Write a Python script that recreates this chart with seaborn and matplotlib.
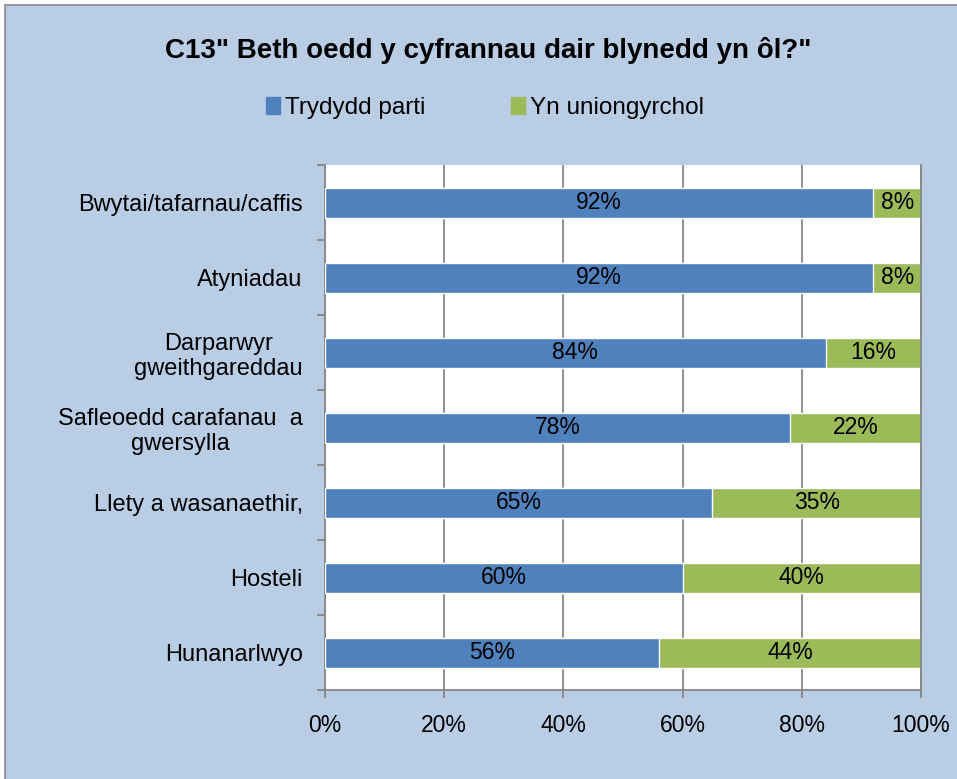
import matplotlib
matplotlib.use("Agg")
import matplotlib.pyplot as plt
import matplotlib.patches as mpatches
import numpy as np
import pandas as pd
import seaborn as sns

categories = [
    "Bwytai/tafarnau/caffis",
    "Atyniadau",
    "Darparwyr\ngweithgareddau",
    "Safleoedd carafanau  a\ngwersylla",
    "Llety a wasanaethir,",
    "Hosteli",
    "Hunanarlwyo",
]
trydydd_parti = [92, 92, 84, 78, 65, 60, 56]
yn_uniongyrchol = [8, 8, 16, 22, 35, 40, 44]
x_ticks = [0, 20, 40, 60, 80, 100]

BLUE = "#4F81BD"
GREEN = "#9BBB59"
BG = "#B9CDE5"
GRID = "#878787"

sns.set_style("white")
plt.rcParams["font.family"] = ["Liberation Sans", "DejaVu Sans"]
plt.rcParams["text.color"] = "black"
plt.rcParams["xtick.color"] = "black"
plt.rcParams["ytick.color"] = "black"

df = pd.DataFrame({
    "cat": categories,
    "Trydydd parti": trydydd_parti,
    "Yn uniongyrchol": yn_uniongyrchol,
})
df["total"] = df["Trydydd parti"] + df["Yn uniongyrchol"]

fig = plt.figure(figsize=(9.57, 7.79), dpi=100)
fig.patch.set_facecolor("white")
fig.patches.append(mpatches.Rectangle(
    (5 / 957, -0.01), 1.0, 1 - 5 / 779 + 0.01, transform=fig.transFigure,
    facecolor=BG, edgecolor="#8C8C8C", linewidth=1.2, zorder=-1))

ax = fig.add_axes([325 / 957, 89 / 779, 596 / 957, 525 / 779])
ax.set_facecolor("white")

# stacked: total (green) underneath, blue part on top
sns.barplot(data=df, x="total", y="cat", orient="h", color=GREEN,
            width=0.4, saturation=1, ax=ax, zorder=2)
sns.barplot(data=df, x="Trydydd parti", y="cat", orient="h", color=BLUE,
            width=0.4, saturation=1, ax=ax, zorder=3)

green_bars = ax.containers[0]
blue_bars = ax.containers[1]
for b, v in zip(blue_bars, trydydd_parti):
    ax.text(b.get_x() + b.get_width() / 2, b.get_y() + b.get_height() / 2,
            f"{v}%", ha="center", va="center", fontsize=16.5, color="black", zorder=5)
for b, vb, vg in zip(green_bars, trydydd_parti, yn_uniongyrchol):
    ax.text(vb + vg / 2, b.get_y() + b.get_height() / 2,
            f"{vg}%", ha="center", va="center", fontsize=16.5, color="black", zorder=5)

ax.set_xlim(0, 100)
ax.set_ylim(len(categories) - 0.5, -0.5)
ax.set_xticks(x_ticks)
ax.set_xticklabels([f"{t}%" for t in x_ticks], fontsize=16.5)
ax.xaxis.grid(True, color=GRID, linewidth=1.3, zorder=0)
ax.set_axisbelow(True)
ax.set_xlabel("")
ax.set_ylabel("")

ax.set_yticks(range(len(categories)))
ax.set_yticklabels(categories, fontsize=17, multialignment="center")
ax.set_yticks(np.arange(-0.5, len(categories)), minor=True)
ax.tick_params(axis="y", which="both", left=True)
ax.tick_params(axis="x", which="both", bottom=True)
ax.tick_params(axis="y", which="major", length=0, pad=16)
ax.tick_params(axis="y", which="minor", length=6, color=GRID, width=1.3)
ax.tick_params(axis="x", which="major", length=6, color=GRID, width=1.3, pad=11)

ax.spines["top"].set_visible(False)
for s in ["left", "bottom", "right"]:
    ax.spines[s].set_visible(True)
    ax.spines[s].set_color(GRID)
    ax.spines[s].set_linewidth(1.3)

fig.text(488 / 957, 1 - 51 / 779, "C13\" Beth oedd y cyfrannau dair blynedd yn ôl?\"",
         ha="center", va="center", fontsize=20, fontweight="bold", color="black")

handles = [mpatches.Patch(color=BLUE, label="Trydydd parti"),
           mpatches.Patch(color=GREEN, label="Yn uniongyrchol")]
fig.legend(handles=handles, loc="center", bbox_to_anchor=(485 / 957, 1 - 108 / 779),
           ncol=2, frameon=False, fontsize=17.5, handlelength=0.6, handleheight=0.7,
           handletextpad=0.2, columnspacing=3.5)

fig.savefig("out.png", dpi=100, facecolor=fig.get_facecolor())
